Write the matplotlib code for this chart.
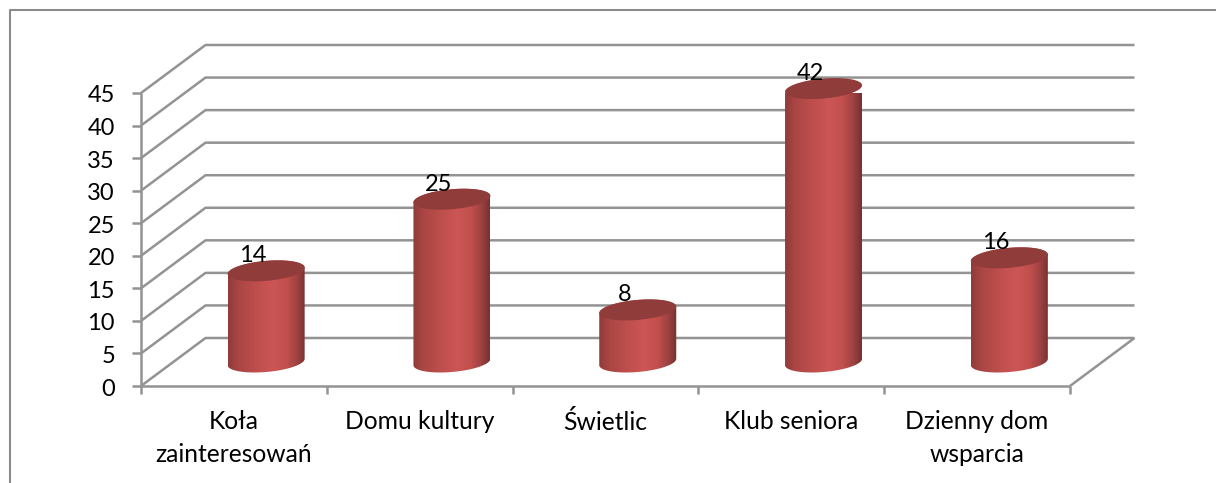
import numpy as np
import matplotlib
matplotlib.use("Agg")
import matplotlib.pyplot as plt
from matplotlib.colors import LinearSegmentedColormap
from matplotlib.lines import Line2D
from matplotlib.patches import PathPatch
from matplotlib.path import Path

categories = ["Koła\nzainteresowań", "Domu kultury", "Świetlic", "Klub seniora", "Dzienny dom\nwsparcia"]
values = [14, 25, 8, 42, 16]
y_ticks = [0, 5, 10, 15, 20, 25, 30, 35, 40, 45]

W, H = 1216, 483
GRID = "#939393"
plt.rcParams["font.family"] = ["Lato", "DejaVu Sans"]

fig = plt.figure(figsize=(W / 100, H / 100), dpi=100, facecolor="white")
x0, x1, y0, y1 = 141, 1070, 386, 93
ax = fig.add_axes([x0 / W, 1 - y0 / H, (x1 - x0) / W, (y0 - y1) / H])
ax.set_xlim(0, 5)
ax.set_ylim(0, 45)
ax.axis("off")
px = 5 / (x1 - x0)            # data units per pixel, x
py = 45 / (y0 - y1)           # data units per pixel, y
dx, dy = 64.5 * px, 48 * py   # depth of the pseudo-3D box
lw = 1.8

def line(xs, ys, z=1):
    ax.plot(xs, ys, color=GRID, lw=lw, clip_on=False, zorder=z, solid_capstyle="butt")

# walls and gridlines
for t in y_ticks:
    line([0, dx, 5 + dx], [t, t + dy, t + dy])
    line([-9 * px, 0], [t, t])
line([0, 0], [0, 45])
line([0, 5], [0, 0])
line([5, 5 + dx], [0, dy])
for i in range(6):
    line([i, i], [0, -8 * py])

# cylinders
cmap = LinearSegmentedColormap.from_list("cyl", [
    (0.00, "#8f3b3a"), (0.12, "#a84543"), (0.35, "#bd4e4c"), (0.58, "#cc5655"),
    (0.75, "#c24f4d"), (0.88, "#a04342"), (1.00, "#763131")])
grad = np.linspace(0, 1, 256).reshape(1, -1)
a = 38.5 * px
b = 10.0 * py
k = 3.2 * py   # tilt of the ellipses

def ell(cx, cy, t):
    return cx + a * np.cos(t), cy + b * np.sin(t) + k * np.cos(t)

for i, v in enumerate(values):
    cx = i + 0.5 + dx / 2
    base = dy / 2
    top = v + dy / 2
    tb = np.linspace(np.pi, 2 * np.pi, 60)
    xb, yb = ell(cx, base, tb)
    tt = np.linspace(0, np.pi, 60)
    xt, yt = ell(cx, top, tt)
    verts = np.r_[np.c_[xb, yb], np.c_[xt, yt], [[xb[0], yb[0]]]]
    body = PathPatch(Path(verts, closed=True), transform=ax.transData, fc="none", ec="none")
    ax.add_patch(body)
    im = ax.imshow(grad, cmap=cmap, vmin=0, vmax=1, aspect="auto", zorder=3,
                   extent=[cx - a, cx + a, base - 14 * py, top + 14 * py])
    im.set_clip_path(body)
    tc = np.linspace(0, 2 * np.pi, 120)
    xc, yc = ell(cx, top, tc)
    ax.fill(xc, yc, color="#903c3a", zorder=4, lw=0, clip_on=False)
    ax.text(i + 0.5 + 19 * px, top + 15 * py, str(v), ha="center", va="center",
            fontsize=17, color="black", zorder=5)
ax.set_xlim(0, 5)
ax.set_ylim(0, 45)

# tick labels
for t in y_ticks:
    ax.text(-26 * px, t - 3 * py, str(t), ha="right", va="center", fontsize=17, color="black")
for i, c in enumerate(categories):
    ax.text(i + 0.5, -24 * py, c, ha="center", va="top", fontsize=17.7, color="black", linespacing=1.52)

# outer frame (runs off the right and bottom of the picture)
fig.add_artist(Line2D([9.7 / W, 9.7 / W, 1], [0, 1 - 9.7 / H, 1 - 9.7 / H],
                      transform=fig.transFigure, color="#8c8c8c", lw=1.5))

fig.savefig("out.png", dpi=100)
